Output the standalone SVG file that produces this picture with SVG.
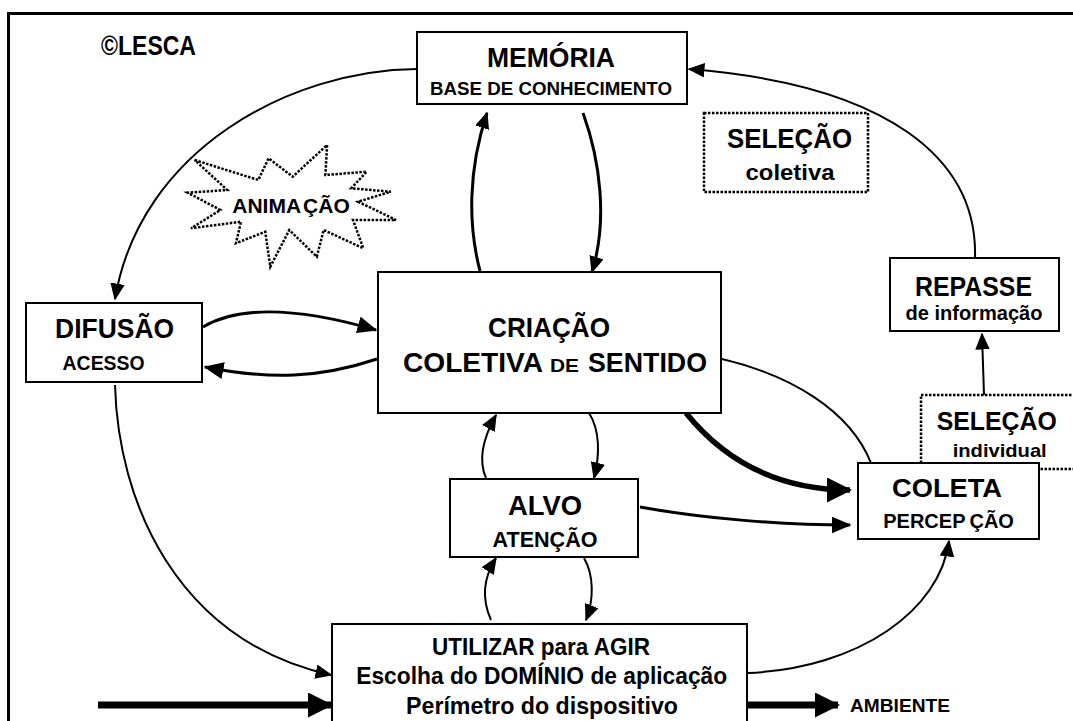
<svg xmlns="http://www.w3.org/2000/svg" width="1073" height="721" viewBox="0 0 1073 721">
<style>
text{font-family:"Liberation Sans",Arial,sans-serif;font-weight:bold;fill:#000}
.box{fill:#fff;stroke:#000;stroke-width:2}
.dot{fill:none;stroke:#000;stroke-width:2.5;stroke-dasharray:2.5 1.5}
.c{fill:none;stroke:#000;stroke-width:2}
.c3{fill:none;stroke:#000;stroke-width:3}
.thick{fill:none;stroke:#000;stroke-width:7}
.mid{text-anchor:middle}
</style>
<defs>
<marker id="s" markerUnits="userSpaceOnUse" markerWidth="17" markerHeight="15" refX="15.5" refY="7.25" orient="auto"><path d="M0,0 L17,7.25 L0,14.5 z" fill="#000"/></marker>
<marker id="m" markerUnits="userSpaceOnUse" markerWidth="20" markerHeight="17" refX="18.5" refY="8.5" orient="auto"><path d="M0,0 L20,8.5 L0,17 z" fill="#000"/></marker>
<marker id="b" markerUnits="userSpaceOnUse" markerWidth="25" markerHeight="25" refX="23" refY="12.5" orient="auto"><path d="M0,0 L25,12.5 L0,25 z" fill="#000"/></marker>
</defs>
<rect width="1073" height="721" fill="#fff"/>
<g id="frame">
<line x1="7" y1="13.5" x2="1073" y2="13.5" stroke="#000" stroke-width="3"/>
<line x1="8.5" y1="12" x2="8.5" y2="721" stroke="#000" stroke-width="3"/>
</g>
<text x="101" y="55" font-size="27" textLength="95" lengthAdjust="spacingAndGlyphs">©LESCA</text>
<g id="connectors">
<path class="c" d="M417,69 C290,70 140,150 115,299" marker-end="url(#s)"/>
<path class="c3" d="M480,271 C468,225 468,170 487,113" marker-end="url(#s)"/>
<path class="c3" d="M583,113 C600,160 608,220 592,272" marker-end="url(#s)"/>
<path class="c" d="M975,258 C978,160 890,85 689,69" marker-end="url(#s)"/>
<path class="c" d="M984,395 L982,334" marker-end="url(#s)"/>
<path class="c3" d="M203,327 C240,305 300,308 376,330" marker-end="url(#m)"/>
<path class="c3" d="M377,359 C320,378 270,380 205,367" marker-end="url(#m)"/>
<path class="c" d="M115,385 C118,500 175,640 331,675" marker-end="url(#s)"/>
<path class="thick" d="M98,705 L331,705" marker-end="url(#b)"/>
<path class="thick" d="M748,705 L838,705" marker-end="url(#b)"/>
<path class="c" d="M748,673 C860,668 940,610 949,541" marker-end="url(#s)"/>
<path class="c" d="M722,359 C790,375 850,410 871,463"/>
<path fill="none" stroke="#000" stroke-width="5.5" d="M686,413 C720,455 770,490 850,490" marker-end="url(#b)"/>
<path class="c3" d="M640,507 C700,518 780,525 850,525" marker-end="url(#m)"/>
<path class="c" d="M486,478 C478,460 482,440 496,415" marker-end="url(#s)"/>
<path class="c" d="M589,413 C600,430 600,455 594,478" marker-end="url(#s)"/>
<path class="c" d="M491,620 C482,600 482,580 496,558" marker-end="url(#s)"/>
<path class="c" d="M584,558 C594,575 594,600 586,620" marker-end="url(#s)"/>
</g>
<g id="memoria">
<rect class="box" x="417" y="32" width="270" height="72"/>
<text class="mid" x="551" y="67" font-size="28" textLength="128" lengthAdjust="spacingAndGlyphs">MEMÓRIA</text>
<text class="mid" x="551" y="95" font-size="19" textLength="242" lengthAdjust="spacingAndGlyphs">BASE DE CONHECIMENTO</text>
</g>
<g id="selecao-coletiva">
<rect class="dot" x="704" y="113" width="164" height="79"/>
<text class="mid" x="789.5" y="148" font-size="28" textLength="125" lengthAdjust="spacingAndGlyphs">SELEÇÃO</text>
<text class="mid" x="790" y="180" font-size="22" textLength="89" lengthAdjust="spacingAndGlyphs">coletiva</text>
</g>
<g id="animacao">
<polygon class="dot" points="194.6,160 258.3,180 268.6,158.3 292.7,176.7 327.1,145 325.4,175 366.7,171.7 351.2,188.3 390.8,191.7 358.1,201.7 396,220 353,220 363.3,248.3 323.7,230 316.8,256.7 289.3,230 270.3,266.7 265.2,231.7 235.9,243.3 241,221.7 191.1,228.3 220.4,210 187.7,192.7 227.3,190"/>
<text class="mid" x="291" y="213" font-size="21">ANIMA<tspan dx="2">ÇÃO</tspan></text>
</g>
<g id="repasse">
<rect class="box" x="890" y="258" width="169" height="73"/>
<text class="mid" x="973.5" y="296" font-size="27" textLength="117" lengthAdjust="spacingAndGlyphs">REPASSE</text>
<text class="mid" x="974" y="320" font-size="20" textLength="137" lengthAdjust="spacingAndGlyphs">de informação</text>
</g>
<g id="difusao">
<rect class="box" x="26" y="303" width="176" height="79"/>
<text class="mid" x="114.6" y="338" font-size="27" textLength="119" lengthAdjust="spacingAndGlyphs">DIFUSÃO</text>
<text class="mid" x="103.6" y="370" font-size="21" textLength="82" lengthAdjust="spacingAndGlyphs">ACESSO</text>
</g>
<g id="criacao">
<rect class="box" x="378" y="272" width="343" height="141"/>
<text class="mid" x="549" y="337" font-size="28" textLength="122" lengthAdjust="spacingAndGlyphs">CRIAÇÃO</text>
<text x="403" y="372" font-size="28" textLength="140" lengthAdjust="spacingAndGlyphs">COLETIVA</text>
<text x="550" y="372" font-size="19" textLength="29" lengthAdjust="spacingAndGlyphs">DE</text>
<text x="588" y="372" font-size="28" textLength="119" lengthAdjust="spacingAndGlyphs">SENTIDO</text>
</g>
<g id="selecao-individual">
<rect class="dot" x="921" y="395" width="200" height="74"/>
<text class="mid" x="996.7" y="430" font-size="26" textLength="120" lengthAdjust="spacingAndGlyphs">SELEÇÃO</text>
<text class="mid" x="999.7" y="457" font-size="19" textLength="94" lengthAdjust="spacingAndGlyphs">individual</text>
</g>
<g id="coleta">
<rect class="box" x="858" y="463" width="181" height="76"/>
<text class="mid" x="947" y="497" font-size="26" textLength="110" lengthAdjust="spacingAndGlyphs">COLETA</text>
<text class="mid" x="948.6" y="528" font-size="20">PERCEP<tspan dx="4">ÇÃO</tspan></text>
</g>
<g id="alvo">
<rect class="box" x="450" y="479" width="188" height="78"/>
<text class="mid" x="545" y="515" font-size="28" textLength="74" lengthAdjust="spacingAndGlyphs">ALVO</text>
<text class="mid" x="545" y="547" font-size="22" textLength="105" lengthAdjust="spacingAndGlyphs">ATENÇÃO</text>
</g>
<g id="utilizar">
<rect class="box" x="332" y="624" width="415" height="110"/>
<text class="mid" x="541" y="655" font-size="23" textLength="218" lengthAdjust="spacingAndGlyphs">UTILIZAR para AGIR</text>
<text class="mid" x="541.7" y="684" font-size="23" textLength="371" lengthAdjust="spacingAndGlyphs">Escolha do DOMÍNIO de aplicação</text>
<text class="mid" x="542" y="714" font-size="23" textLength="272" lengthAdjust="spacingAndGlyphs">Perímetro do dispositivo</text>
</g>
<g id="ambiente">
<text x="850" y="712" font-size="19" textLength="100" lengthAdjust="spacingAndGlyphs">AMBIENTE</text>
</g>
</svg>
